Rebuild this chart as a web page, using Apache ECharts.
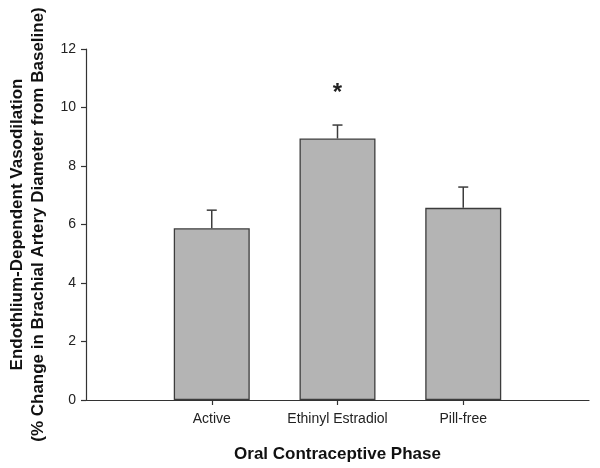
<!DOCTYPE html>
<html>
<head>
<meta charset="utf-8">
<script src="https://cdn.jsdelivr.net/npm/echarts@6/dist/echarts.min.js"></script>
<style>html,body{margin:0;padding:0;background:#fff}#c{width:600px;height:468px}</style>
</head>
<body>
<div id="c"></div>
<script>
const categories = ['Active', 'Ethinyl Estradiol', 'Pill-free'];
const meanValues = [5.87, 8.94, 6.57];
const errorValues = [0.62, 0.46, 0.71];
const significance = ['', '*', ''];
const yTicks = [0, 2, 4, 6, 8, 10, 12];

const axisCats = [''].concat(categories, ['']);
const barData = [null].concat(meanValues, [null]);
const errData = categories.map((c, i) => [i + 1, meanValues[i], errorValues[i], significance[i]]);

const chart = echarts.init(document.getElementById('c'), null, {renderer: 'canvas'});
const font = 'Liberation Sans, Arial, sans-serif';
chart.setOption({
  animation: false,
  backgroundColor: '#fff',
  grid: {left: 86, right: 11, top: 49, bottom: 68, containLabel: false, outerBoundsMode: 'none'},
  xAxis: {
    type: 'category',
    data: axisCats,
    boundaryGap: false,
    axisLine: {lineStyle: {color: '#333', width: 1.2}},
    axisTick: {show: true, length: 5, interval: (i) => i > 0 && i < axisCats.length - 1, lineStyle: {color: '#333', width: 1.2}},
    axisLabel: {interval: 0, color: '#222', fontSize: 14, fontFamily: font, margin: 12},
    splitLine: {show: false},
    name: 'Oral Contraceptive Phase',
    nameLocation: 'middle',
    nameGap: 46,
    nameTextStyle: {fontSize: 17, fontWeight: 'bold', color: '#111', fontFamily: font}
  },
  yAxis: {
    type: 'value',
    min: yTicks[0],
    max: yTicks[yTicks.length - 1],
    interval: 2,
    axisLine: {show: true, lineStyle: {color: '#333', width: 1.2}},
    axisTick: {show: true, length: 5, lineStyle: {color: '#333', width: 1.2}},
    axisLabel: {color: '#222', fontSize: 14, fontFamily: font, margin: 10},
    splitLine: {show: false},
    name: 'Endothlium-Dependent Vasodilation\n(% Change in Brachial Artery Diameter from Baseline)',
    nameLocation: 'middle',
    nameGap: 37,
    nameTextStyle: {fontSize: 17, fontWeight: 'bold', color: '#111', fontFamily: font, lineHeight: 21}
  },
  series: [
    {
      type: 'bar',
      data: barData,
      barWidth: 76,
      itemStyle: {color: '#b4b4b4', borderColor: '#3c3c3c', borderWidth: 1.3},
      z: 2
    },
    {
      type: 'custom',
      data: errData,
      z: 3,
      renderItem: function (params, api) {
        const x = api.value(0);
        const m = api.value(1);
        const e = api.value(2);
        const sig = errData[params.dataIndex][3];
        const p0 = api.coord([x, m]);
        const p1 = api.coord([x, m + e]);
        const cap = 5;
        const style = {stroke: '#3c3c3c', lineWidth: 1.5};
        const children = [
          {type: 'line', shape: {x1: p0[0], y1: p0[1], x2: p1[0], y2: p1[1]}, style: style},
          {type: 'line', shape: {x1: p1[0] - cap, y1: p1[1], x2: p1[0] + cap, y2: p1[1]}, style: style}
        ];
        if (sig) {
          children.push({type: 'text', style: {text: sig, x: p1[0], y: p1[1] - 32, align: 'center', verticalAlign: 'middle', font: 'bold 24px ' + font, fill: '#222'}});
        }
        return {type: 'group', children: children};
      }
    }
  ]
});
</script>
</body>
</html>
